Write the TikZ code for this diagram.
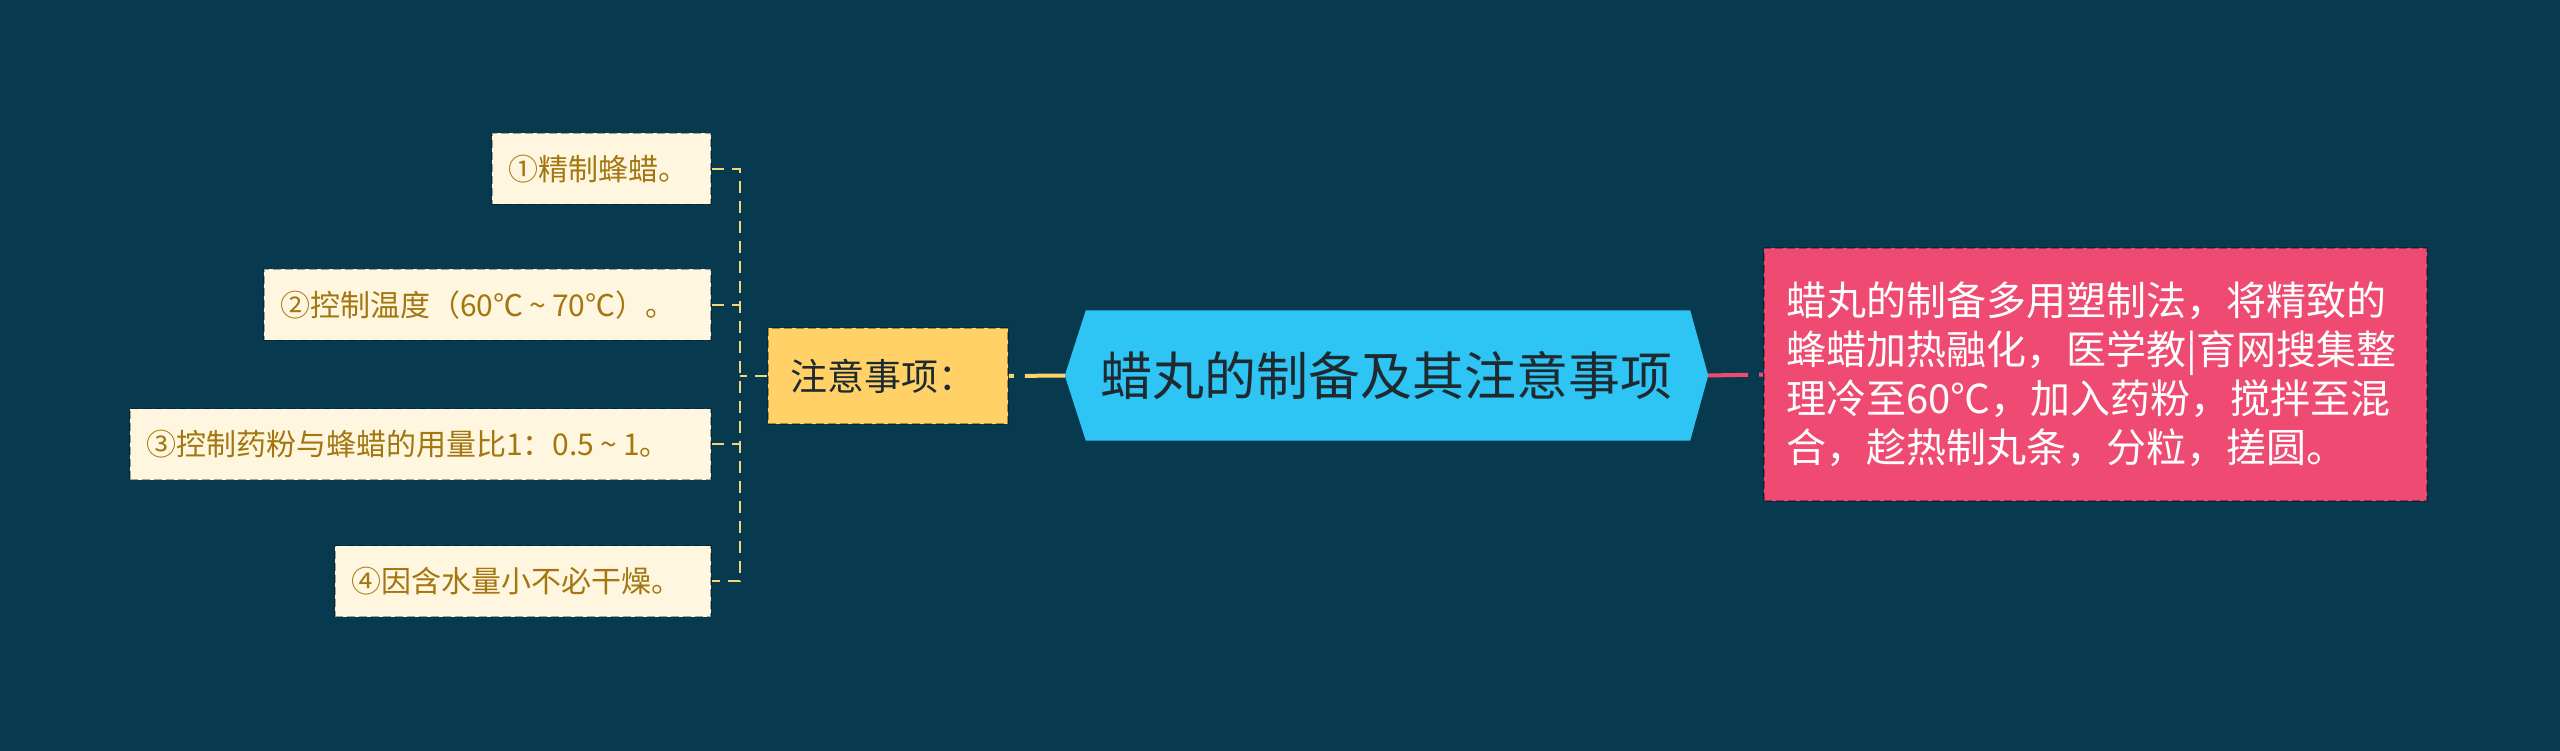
\documentclass[tikz,border=0pt]{standalone}
\usepackage{fontspec}
\setmainfont{Noto Sans CJK SC}
\usetikzlibrary{backgrounds}
\definecolor{bg}{HTML}{073A4F}
\definecolor{maincol}{HTML}{2EC4F4}
\definecolor{pinkcol}{HTML}{EF4A72}
\definecolor{yelcol}{HTML}{FFD166}
\definecolor{creamcol}{HTML}{FFF6DF}
\definecolor{goldtext}{HTML}{A37610}
\definecolor{darktext}{HTML}{1E2A30}
\definecolor{brkcol}{HTML}{F3D67C}
\newcommand{\tld}{\hspace{0.2em}\char"7E\hspace{0.2em}}
\tikzset{
  boxborder/.style={draw=black, draw opacity=0.35, line width=1.6pt, dash pattern=on 8pt off 4pt},
  leafbox/.style={boxborder, fill=creamcol, text=goldtext, inner xsep=16pt, inner ysep=0pt,
    minimum height=71pt, anchor=east, font=\fontsize{30pt}{34pt}\selectfont},
  thickconn/.style={line width=4pt, dash pattern=on 40pt off 11pt},
  brkconn/.style={draw=brkcol, line width=2pt, dash pattern=on 12pt off 8pt},
}
\begin{document}
\begin{tikzpicture}[x=1pt,y=-1pt]
\useasboundingbox (0,0) rectangle (2560,751);
\begin{pgfonlayer}{background}
\fill[bg] (0,0) rectangle (2560,751);
\end{pgfonlayer}

% main node
\node[inner sep=0pt, minimum width=643pt, minimum height=130pt, text=darktext,
      font=\fontsize{52pt}{60pt}\selectfont] (main) at (1386.5,375.5) {蜡丸的制备及其注意事项};
\begin{pgfonlayer}{background}
\fill[maincol] ([xshift=21pt]main.north west) -- (main.west) -- ([xshift=21pt]main.south west)
  -- ([xshift=-18pt]main.south east) -- (main.east) -- ([xshift=-18pt]main.north east) -- cycle;
\end{pgfonlayer}

% right description
\node[boxborder, fill=pinkcol, text=white, inner xsep=22pt, inner ysep=0pt,
      minimum width=663pt, minimum height=253pt, text width=619pt, align=left,
      font=\fontsize{40pt}{49pt}\selectfont] (desc) at (2095.5,374.5)
  {蜡丸的制备多用塑制法，将精致的\\蜂蜡加热融化，医学教|育网搜集整\\理冷至60℃，加入药粉，搅拌至混\\合，趁热制丸条，分粒，搓圆。};

% left branch
\node[boxborder, fill=yelcol, text=darktext, inner xsep=22pt, inner ysep=0pt,
      minimum width=240pt, minimum height=96pt,
      font=\fontsize{37pt}{44pt}\selectfont] (note) at (888,376)
  {\makebox[196pt][l]{注意事项：}};

\node[leafbox] (b1) at (712,169) {\makebox[187pt][l]{①精制蜂蜡。}};
\node[leafbox] (b2) at (712,305) {\makebox[415pt][l]{②控制温度（60℃\tld 70℃）。}};
\node[leafbox] (b3) at (712,444) {\makebox[549pt][l]{③控制药粉与蜂蜡的用量比1：0.5\tld 1。}};
\node[leafbox] (b4) at (712,581) {\makebox[344pt][l]{④因含水量小不必干燥。}};

\coordinate (bx) at (740,0);

% connectors
\draw[thickconn, draw=yelcol] (main.west) -- (note.east);
\draw[thickconn, draw=pinkcol] (main.east) -- (desc.west);
\draw[brkconn] (note.west) -- (note.west -| bx);
\draw[brkconn] (b1.east) -- (b1.east -| bx) -- (b4.east -| bx) -- (b4.east);
\draw[brkconn] (b2.east) -- (b2.east -| bx);
\draw[brkconn] (b3.east) -- (b3.east -| bx);
\end{tikzpicture}
\end{document}
